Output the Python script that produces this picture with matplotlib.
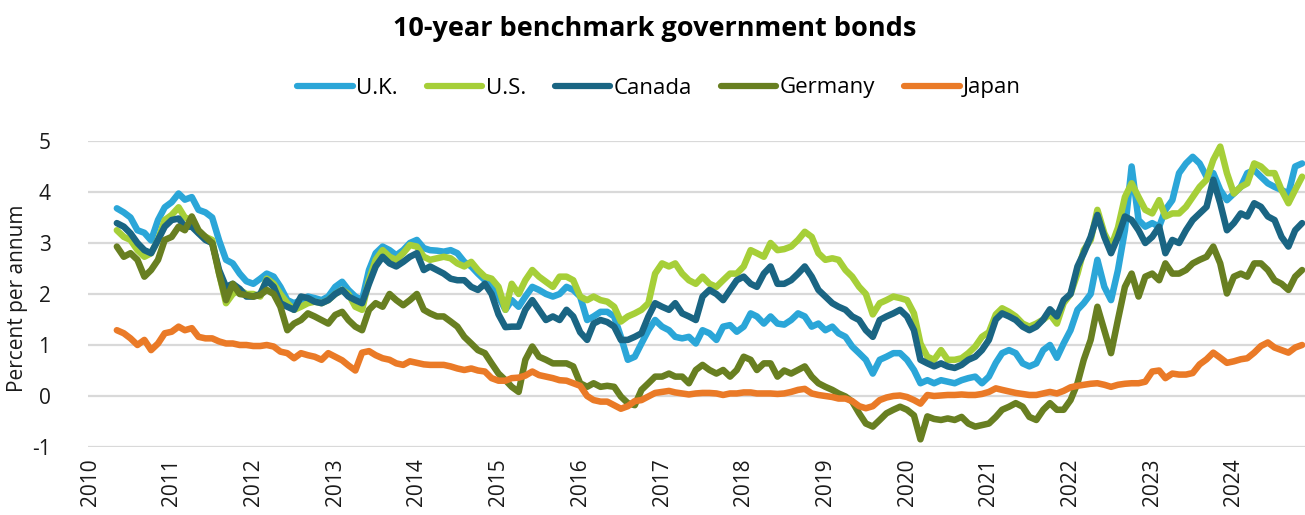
import matplotlib
matplotlib.use("Agg")
import matplotlib.pyplot as plt
import matplotlib.dates as mdates
from matplotlib.ticker import MultipleLocator
from matplotlib.lines import Line2D
import pandas as pd
from datetime import datetime

plt.rcParams['font.family'] = ['Open Sans', 'DejaVu Sans']
plt.rcParams['axes.unicode_minus'] = False

# Monthly observations, May 2010 .. Nov 2024
dates = pd.date_range("2010-05-01", "2024-11-01", freq="MS")

uk = [3.68, 3.60, 3.50, 3.25, 3.20, 3.05, 3.45, 3.70, 3.80, 3.97,
      3.85, 3.90, 3.65, 3.60, 3.50, 3.05, 2.67, 2.60, 2.40, 2.25,
      2.20, 2.30, 2.40, 2.34, 2.14, 1.88, 1.82, 1.88, 1.95, 1.92,
      1.88, 1.95, 2.14, 2.24, 2.08, 1.95, 1.88, 2.47, 2.80, 2.93,
      2.86, 2.76, 2.86, 3.00, 3.06, 2.90, 2.86, 2.85, 2.83, 2.86,
      2.80, 2.63, 2.54, 2.40, 2.27, 2.14, 1.95, 1.69, 1.88, 1.75,
      1.95, 2.14, 2.08, 2.00, 1.95, 2.00, 2.14, 2.08, 1.95, 1.49,
      1.56, 1.65, 1.65, 1.56, 1.16, 0.71, 0.77, 1.03, 1.29, 1.49,
      1.36, 1.29, 1.16, 1.13, 1.16, 1.03, 1.29, 1.23, 1.10, 1.36,
      1.39, 1.26, 1.36, 1.62, 1.56, 1.42, 1.56, 1.42, 1.40, 1.49,
      1.62, 1.56, 1.36, 1.42, 1.29, 1.36, 1.23, 1.16, 0.97, 0.84,
      0.71, 0.44, 0.71, 0.77, 0.84, 0.84, 0.71, 0.51, 0.25, 0.31,
      0.25, 0.31, 0.28, 0.25, 0.31, 0.35, 0.38, 0.25, 0.38, 0.65,
      0.84, 0.90, 0.84, 0.64, 0.58, 0.64, 0.90, 1.00, 0.75, 1.03,
      1.29, 1.69, 1.82, 2.00, 2.67, 2.14, 1.88, 2.47, 3.25, 4.50,
      3.45, 3.32, 3.39, 3.32, 3.65, 3.84, 4.37, 4.56, 4.69, 4.56,
      4.30, 4.37, 4.04, 3.84, 3.97, 4.10, 4.37, 4.43, 4.30, 4.17,
      4.10, 4.04, 3.97, 4.50, 4.56]

us = [3.25, 3.12, 3.06, 2.86, 2.73, 2.80, 3.06, 3.45, 3.55, 3.70,
      3.50, 3.45, 3.20, 3.12, 3.06, 2.40, 1.82, 2.00, 2.08, 2.00,
      2.00, 1.95, 2.30, 2.20, 2.00, 1.82, 1.69, 1.75, 1.82, 1.85,
      1.82, 1.88, 2.00, 2.08, 2.00, 1.75, 1.69, 2.27, 2.67, 2.86,
      2.73, 2.67, 2.80, 2.96, 2.93, 2.73, 2.67, 2.70, 2.73, 2.70,
      2.60, 2.54, 2.63, 2.47, 2.34, 2.30, 2.14, 1.69, 2.20, 2.00,
      2.27, 2.47, 2.34, 2.24, 2.14, 2.34, 2.34, 2.27, 1.95, 1.88,
      1.95, 1.88, 1.85, 1.75, 1.46, 1.56, 1.62, 1.69, 1.82, 2.40,
      2.60, 2.54, 2.60, 2.40, 2.27, 2.20, 2.34, 2.20, 2.14, 2.27,
      2.40, 2.40, 2.54, 2.86, 2.80, 2.73, 3.00, 2.86, 2.88, 2.93,
      3.06, 3.22, 3.12, 2.80, 2.67, 2.70, 2.67, 2.47, 2.34, 2.14,
      2.00, 1.60, 1.82, 1.88, 1.95, 1.92, 1.88, 1.62, 1.03, 0.77,
      0.71, 0.90, 0.71, 0.71, 0.74, 0.84, 0.97, 1.16, 1.25, 1.60,
      1.72, 1.65, 1.56, 1.42, 1.36, 1.42, 1.50, 1.60, 1.42, 1.82,
      2.00, 2.40, 2.86, 3.06, 3.65, 3.19, 2.93, 3.30, 3.90, 4.17,
      3.90, 3.65, 3.58, 3.84, 3.52, 3.58, 3.58, 3.71, 3.90, 4.10,
      4.24, 4.63, 4.89, 4.37, 3.97, 4.10, 4.17, 4.56, 4.50, 4.37,
      4.37, 4.04, 3.78, 4.04, 4.30]

canada = [3.39, 3.32, 3.19, 3.00, 2.86, 2.80, 3.06, 3.32, 3.45, 3.48,
          3.32, 3.32, 3.19, 3.06, 3.00, 2.47, 2.14, 2.20, 2.10, 1.95,
          1.95, 2.00, 2.27, 2.14, 1.82, 1.75, 1.69, 1.95, 1.92, 1.85,
          1.82, 1.88, 2.00, 2.08, 1.95, 1.88, 1.82, 2.20, 2.54, 2.73,
          2.60, 2.54, 2.63, 2.73, 2.80, 2.47, 2.54, 2.47, 2.40, 2.30,
          2.27, 2.27, 2.14, 2.08, 2.20, 2.00, 1.60, 1.35, 1.36, 1.36,
          1.69, 1.88, 1.69, 1.49, 1.56, 1.49, 1.69, 1.56, 1.25, 1.10,
          1.42, 1.49, 1.45, 1.36, 1.10, 1.10, 1.16, 1.23, 1.56, 1.82,
          1.75, 1.69, 1.82, 1.62, 1.56, 1.49, 1.95, 2.08, 2.00, 1.88,
          2.08, 2.27, 2.34, 2.20, 2.14, 2.40, 2.54, 2.20, 2.20, 2.27,
          2.40, 2.54, 2.34, 2.08, 1.95, 1.82, 1.75, 1.69, 1.56, 1.49,
          1.29, 1.16, 1.49, 1.56, 1.62, 1.69, 1.56, 1.29, 0.71, 0.64,
          0.58, 0.64, 0.58, 0.55, 0.61, 0.71, 0.77, 0.90, 1.10, 1.50,
          1.62, 1.56, 1.49, 1.36, 1.29, 1.36, 1.50, 1.70, 1.56, 1.88,
          2.00, 2.54, 2.80, 3.12, 3.55, 3.12, 2.80, 3.12, 3.52, 3.45,
          3.25, 3.00, 3.12, 3.32, 2.80, 3.06, 3.00, 3.25, 3.45, 3.58,
          3.71, 4.24, 3.78, 3.25, 3.39, 3.58, 3.52, 3.78, 3.71, 3.52,
          3.45, 3.12, 2.93, 3.25, 3.39]

germany = [2.93, 2.73, 2.80, 2.67, 2.34, 2.47, 2.67, 3.06, 3.12, 3.32,
           3.25, 3.52, 3.25, 3.12, 3.00, 2.40, 1.88, 2.20, 2.00, 1.98,
           1.95, 1.98, 2.08, 2.00, 1.75, 1.29, 1.42, 1.49, 1.62, 1.56,
           1.49, 1.42, 1.59, 1.65, 1.49, 1.36, 1.29, 1.69, 1.82, 1.75,
           2.00, 1.88, 1.78, 1.88, 2.00, 1.69, 1.62, 1.56, 1.56, 1.46,
           1.36, 1.16, 1.03, 0.90, 0.84, 0.64, 0.44, 0.31, 0.18, 0.08,
           0.71, 0.97, 0.77, 0.71, 0.64, 0.64, 0.64, 0.58, 0.25, 0.18,
           0.25, 0.18, 0.20, 0.18, -0.01, -0.14, -0.18, 0.12, 0.25, 0.38,
           0.38, 0.44, 0.38, 0.38, 0.25, 0.51, 0.61, 0.51, 0.44, 0.51,
           0.38, 0.51, 0.77, 0.71, 0.51, 0.64, 0.64, 0.38, 0.50, 0.44,
           0.51, 0.58, 0.38, 0.25, 0.18, 0.12, 0.05, -0.01, -0.11, -0.34,
           -0.54, -0.60, -0.47, -0.34, -0.27, -0.21, -0.27, -0.38, -0.85, -0.40,
           -0.45, -0.47, -0.44, -0.47, -0.41, -0.54, -0.60, -0.57, -0.54, -0.41,
           -0.27, -0.21, -0.14, -0.21, -0.41, -0.47, -0.27, -0.14, -0.27, -0.27,
           -0.08, 0.25, 0.71, 1.10, 1.75, 1.29, 0.84, 1.50, 2.14, 2.40,
           1.95, 2.34, 2.40, 2.27, 2.60, 2.40, 2.40, 2.47, 2.60, 2.67,
           2.73, 2.93, 2.60, 2.01, 2.34, 2.40, 2.34, 2.60, 2.60, 2.47,
           2.27, 2.20, 2.08, 2.34, 2.47]

japan = [1.29, 1.23, 1.13, 1.00, 1.10, 0.90, 1.03, 1.23, 1.26, 1.36,
         1.29, 1.33, 1.16, 1.13, 1.13, 1.07, 1.03, 1.03, 1.00, 1.00,
         0.98, 0.98, 1.00, 0.97, 0.87, 0.84, 0.74, 0.84, 0.80, 0.77,
         0.71, 0.84, 0.77, 0.70, 0.60, 0.50, 0.85, 0.88, 0.80, 0.74,
         0.71, 0.64, 0.61, 0.68, 0.65, 0.62, 0.61, 0.61, 0.61, 0.58,
         0.54, 0.51, 0.54, 0.50, 0.48, 0.35, 0.30, 0.30, 0.35, 0.36,
         0.40, 0.48, 0.41, 0.38, 0.35, 0.31, 0.30, 0.25, 0.20, 0.00,
         -0.08, -0.11, -0.11, -0.18, -0.25, -0.20, -0.10, -0.08, -0.01, 0.06,
         0.08, 0.10, 0.07, 0.05, 0.03, 0.05, 0.06, 0.06, 0.05, 0.02,
         0.05, 0.05, 0.07, 0.07, 0.05, 0.05, 0.05, 0.04, 0.05, 0.08,
         0.12, 0.14, 0.05, 0.02, 0.00, -0.02, -0.05, -0.05, -0.10, -0.20,
         -0.24, -0.20, -0.08, -0.03, 0.00, 0.01, -0.02, -0.08, -0.15, 0.02,
         0.00, 0.01, 0.02, 0.02, 0.03, 0.02, 0.02, 0.04, 0.08, 0.15,
         0.12, 0.09, 0.06, 0.04, 0.02, 0.02, 0.05, 0.08, 0.05, 0.10,
         0.17, 0.20, 0.22, 0.24, 0.25, 0.22, 0.18, 0.22, 0.24, 0.25,
         0.25, 0.28, 0.48, 0.50, 0.35, 0.44, 0.42, 0.42, 0.45, 0.62,
         0.72, 0.85, 0.75, 0.65, 0.68, 0.72, 0.74, 0.85, 0.98, 1.05,
         0.95, 0.90, 0.85, 0.95, 1.00]

series_names = ["U.K.", "U.S.", "Canada", "Germany", "Japan"]
series_values = [uk, us, canada, germany, japan]
colors = ["#2BA6D8", "#A6CF38", "#1A6583", "#687F21", "#EA7A27"]

W, H = 1305, 515
fig = plt.figure(figsize=(W / 100, H / 100), dpi=100)
ax = fig.add_axes([88 / W, 1 - 447 / H, 1 - 88 / W, (447 - 141) / H])

for name, vals, c in zip(series_names, series_values, colors):
    ax.plot(dates, vals, color=c, lw=4.7, solid_capstyle='round',
            solid_joinstyle='round', label=name)

ax.set_ylim(-1, 5)
ax.set_xlim(datetime(2009, 12, 23), datetime(2024, 11, 14))
ax.yaxis.set_major_locator(MultipleLocator(1))
ax.xaxis.set_major_locator(mdates.YearLocator())
ax.xaxis.set_major_formatter(mdates.DateFormatter('%Y'))
ax.grid(axis='y', color='#D9D9D9', lw=1.6)
ax.set_axisbelow(True)
for s in ax.spines.values():
    s.set_visible(False)
ax.tick_params(axis='x', length=0, labelrotation=90, pad=8, labelsize=15, colors='#1a1a1a')
ax.tick_params(axis='y', length=0, pad=27, labelsize=15, colors='#1a1a1a')

fig.text(0.502, 1 - 29 / H, "10-year benchmark government bonds", ha='center', va='center',
         fontsize=19.5, fontweight='bold', color='#000000')

handles = [Line2D([0], [0], color=c, lw=4.5, solid_capstyle='round') for c in colors]
fig.legend(handles, series_names, loc='center', bbox_to_anchor=(0.505, 1 - 88 / H), ncol=5,
           frameon=False, fontsize=16, handlelength=2.5, handletextpad=0.15, columnspacing=1.3)

fig.text(18 / W, 1 - 298 / H, "Percent per annum", rotation=90, ha='center', va='center',
         fontsize=15, color='#1a1a1a')

fig.savefig("out.png", dpi=100)
